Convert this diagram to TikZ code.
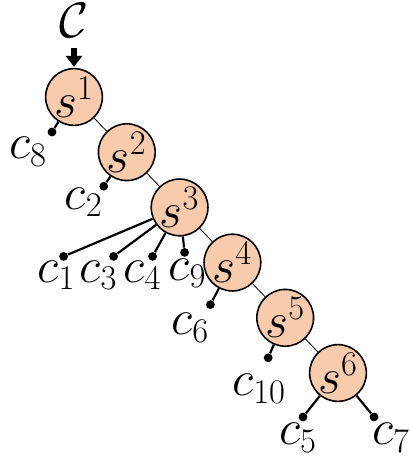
\documentclass[tikz,border=0pt]{standalone}
\usepackage{amsmath,amssymb}
\usepackage{xcolor}
\usepackage{tikz}
\usetikzlibrary{arrows.meta,positioning}
\definecolor{setfill}{HTML}{F8CBAD}

\begin{document}
\begin{tikzpicture}[
  node distance=27.6pt and 26.4pt, on grid,
  sbox/.style={circle, draw, line width=0.8pt, fill=setfill, minimum size=26.5pt, inner sep=0pt, font=\fontsize{26}{31}\selectfont},
  leaf/.style={circle, fill=black, minimum size=4.4pt, inner sep=0pt},
  lbl/.style={inner sep=0pt, font=\fontsize{27}{32}\selectfont},
  link/.style={line width=0.4pt},
  twig/.style={line width=1.1pt},
  arrow/.style={-{Triangle[length=5.5pt,width=8pt]}, line width=3pt}
]
\useasboundingbox (0,0) rectangle (204.5pt,-230.5pt);

% chain of sets
\node[sbox] (s1) at (37pt,-48.5pt) {$s^1$};
\node[sbox, below right=of s1] (s2) {$s^2$};
\node[sbox, below right=of s2] (s3) {$s^3$};
\node[sbox, below right=of s3] (s4) {$s^4$};
\node[sbox, below right=of s4] (s5) {$s^5$};
\node[sbox, below right=of s5] (s6) {$s^6$};
\draw[link] (s1) -- (s2);
\draw[link] (s2) -- (s3);
\draw[link] (s3) -- (s4);
\draw[link] (s4) -- (s5);
\draw[link] (s5) -- (s6);

% input
\node[lbl, anchor=base, font=\fontsize{24}{29}\selectfont] (cset) at ([yshift=29.8pt]s1.center) {$\mathcal{C}$};
\draw[arrow, shorten <=5pt, shorten >=0.5pt] (cset.south) -- (s1.north);

% leaves
\node[leaf, below left=17.5pt and 11pt of s1] (d8) {};
\node[leaf, below left=17pt and 11.5pt of s2] (d2) {};
\node[leaf, below left=24.5pt and 58pt of s3] (d1) {};
\node[leaf, below left=24.5pt and 33pt of s3] (d3) {};
\node[leaf, below left=24.5pt and 13.5pt of s3] (d4) {};
\node[leaf, below right=22.5pt and 2.5pt of s3] (d9) {};
\node[leaf, below left=21pt and 11pt of s4] (d6) {};
\node[leaf, below left=20pt and 8.5pt of s5] (d10) {};
\node[leaf, below left=22pt and 17.5pt of s6] (d5) {};
\node[leaf, below right=22pt and 18pt of s6] (d7) {};
\draw[twig] (s1) -- (d8);
\draw[twig] (s2) -- (d2);
\draw[twig] (s3) -- (d1);
\draw[twig] (s3) -- (d3);
\draw[twig] (s3) -- (d4);
\draw[twig] (s3) -- (d9);
\draw[twig] (s4) -- (d6);
\draw[twig] (s5) -- (d10);
\draw[twig] (s6) -- (d5);
\draw[twig] (s6) -- (d7);

% leaf labels
\node[lbl, below left=10pt and 12pt of d8] (c8) {$c_8$};
\node[lbl, below left=8pt and 10pt of d2] (c2) {$c_2$};
\node[lbl, below left=9.5pt and 3.5pt of d1] (c1) {$c_1$};
\node[lbl, below left=9.5pt and 7.5pt of d3] (c3) {$c_3$};
\node[lbl, below left=9.5pt and 5pt of d4] (c4) {$c_4$};
\node[lbl, below right=10.5pt and 1.5pt of d9] (c9) {$c_9$};
\node[lbl, below left=11.5pt and 10pt of d6] (c6) {$c_6$};
\node[lbl, below left=15.5pt and 4.5pt of d10] (c10) {$c_{10}$};
\node[lbl, below left=10.5pt and 2.5pt of d5] (c5) {$c_5$};
\node[lbl, below right=10.5pt and 8.5pt of d7] (c7) {$c_7$};
\end{tikzpicture}
\end{document}
